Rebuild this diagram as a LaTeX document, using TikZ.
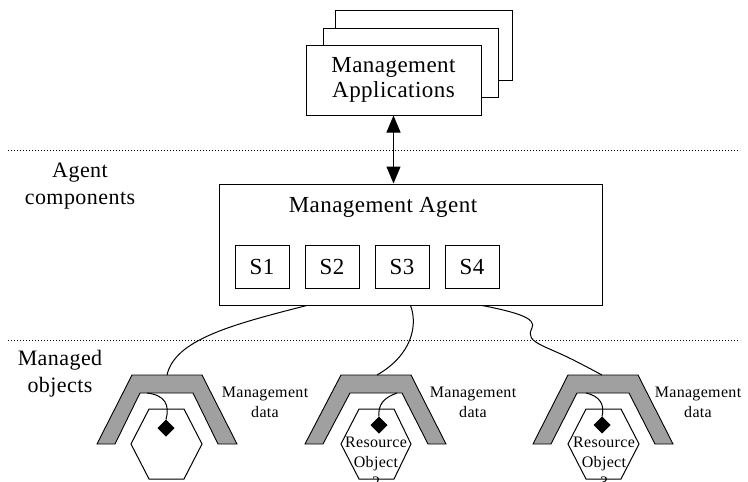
\documentclass[tikz,border=0pt]{standalone}
\usepackage{fontspec}
\setmainfont{Liberation Serif}[LetterSpace=2]
\usepackage{xcolor}
\usepackage{tikz}
\usetikzlibrary{arrows.meta,calc,shapes.geometric}
\definecolor{bandgray}{RGB}{160,160,160}

\begin{document}
\begin{tikzpicture}[x=1pt,y=-1pt,line width=1pt,
		box/.style={draw,fill=white,inner sep=0pt},
		bigtext/.style={font=\fontsize{23}{25}\selectfont,align=center},
		sidetext/.style={font=\fontsize{22}{27}\selectfont,align=center},
		smalltext/.style={font=\fontsize{16}{20}\selectfont,align=center},
		band/.style={draw,fill=bandgray,line width=0.9pt},
		sep/.style={line width=0.8pt,dash pattern=on 1pt off 2pt},
		probe/.style={diamond,draw,fill=black,minimum size=16pt,inner sep=0pt}]

		\useasboundingbox (0,0) rectangle (748,482);
		\clip (0,0) rectangle (748,482);

		% layer separators
		\draw[sep] (8,150) -- (740,150);
		\draw[sep] (8,340) -- (740,340);
		\node[sidetext] (agentlbl) at (80,186) {Agent\\components};
		\node[sidetext] (objlbl) at (60,374) {Managed\\objects};

		% management applications (stacked)
		\draw[fill=white] (335,10) rectangle (512,80);
		\draw[fill=white] (323,28) rectangle (498,97);
		\node[box,bigtext,minimum width=175pt,minimum height=70pt] (apps) at (393.5,80) {Management\\Applications};

		% agent with its sub agents
		\node[box,minimum width=383pt,minimum height=121pt] (agent) at (410.5,244.5) {};
		\node[bigtext] (agenttitle) at (383,207) {Management Agent};
		\node[box,bigtext,minimum width=54pt,minimum height=43pt] (s1) at (262,266.5) {S1};
		\node[box,bigtext,minimum width=54pt,minimum height=43pt] (s2) at (332,266.5) {S2};
		\node[box,bigtext,minimum width=54pt,minimum height=43pt] (s3) at (402,266.5) {S3};
		\node[box,bigtext,minimum width=54pt,minimum height=43pt] (s4) at (472,266.5) {S4};

		\draw[{Triangle[length=17pt,width=14pt]}-{Triangle[length=17pt,width=14pt]}] (apps.south) -- (apps.south |- agent.north);

		% managed objects
		\draw[band] (97,444) -- (132,375) -- (202,375) -- (237,444) -- (218,444) -- (193,393) -- (140,393) -- (115,444) -- cycle;
		\draw[band] (305,444) -- (341,375) -- (411,375) -- (446,444) -- (428,444) -- (402,393) -- (350,393) -- (323,444) -- cycle;
		\draw[band] (533,444) -- (568,375) -- (638,375) -- (673,444) -- (655,444) -- (629,393) -- (577,393) -- (551,444) -- cycle;

		\draw[fill=white] (131,444) -- (149,409) -- (184,409) -- (202,444) -- (184,479) -- (149,479) -- cycle;
		\draw[fill=white] (341,444) -- (359,409) -- (394,409) -- (411,444) -- (394,479) -- (359,479) -- cycle;
		\draw[fill=white] (568,444) -- (586,409) -- (621,409) -- (639,444) -- (621,479) -- (586,479) -- cycle;

		\node[smalltext] (res2) at (376,462) {Resource\\Object\\2};
		\node[smalltext] (res3) at (604,462) {Resource\\Object\\3};

		\node[smalltext] (md1) at (265,402) {Management\\data};
		\node[smalltext] (md2) at (473,402) {Management\\data};
		\node[smalltext] (md3) at (698,402) {Management\\data};

		\node[probe] (p1) at (166,428) {};
		\node[probe] (p2) at (379,425) {};
		\node[probe] (p3) at (602,425) {};

		\coordinate (t1) at (167,375);
		\coordinate (t2) at (377,375);
		\coordinate (t3) at (602,375);
		\coordinate (c1) at (147,393);
		\coordinate (c2) at (397,393);
		\coordinate (c3) at (586,393);

		% wires
		\draw (c1) .. controls (165,395) and (170,405) .. (p1.north);
		\draw (c2) .. controls (383,398) and (378,405) .. (p2.north);
		\draw (c3) .. controls (600,396) and (605,405) .. (p3.north);

		\draw ($(agent.south west)!0.23!(agent.south east)$) .. controls (230,325) and (175,340) .. (t1);
		\draw ($(agent.south west)!0.5!(agent.south east)$) .. controls (418,325) and (412,355) .. (t2);
		\draw ($(agent.south west)!0.687!(agent.south east)$) .. controls (515,312) and (537,318) .. (532,328)
			.. controls (528,336) and (530,340) .. (545,347) .. controls (570,358) .. (t3);
	\end{tikzpicture}
\end{document}
